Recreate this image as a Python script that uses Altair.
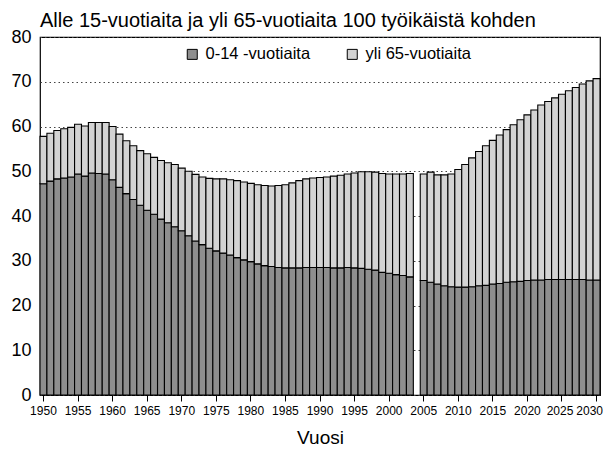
import altair as alt
import pandas as pd

title_text = "Alle 15-vuotiaita ja yli 65-vuotiaita 100 työikäistä kohden"
x_title = "Vuosi"
groups = ["0-14 -vuotiaita", "yli 65-vuotiaita"]
colors = ["#8e8e8e", "#d3d3d3"]

years = [1950, 1951, 1952, 1953, 1954, 1955, 1956, 1957, 1958, 1959,
         1960, 1961, 1962, 1963, 1964, 1965, 1966, 1967, 1968, 1969,
         1970, 1971, 1972, 1973, 1974, 1975, 1976, 1977, 1978, 1979,
         1980, 1981, 1982, 1983, 1984, 1985, 1986, 1987, 1988, 1989,
         1990, 1991, 1992, 1993, 1994, 1995, 1996, 1997, 1998, 1999,
         2000, 2001, 2002, 2003, 2005, 2006, 2007, 2008, 2009,
         2010, 2011, 2012, 2013, 2014, 2015, 2016, 2017, 2018, 2019,
         2020, 2021, 2022, 2023, 2024, 2025, 2026, 2027, 2028, 2029, 2030]

young = [47.2, 47.8, 48.3, 48.5, 48.7, 49.4, 48.9, 49.6, 49.5, 49.4,
         48.1, 46.4, 45.0, 43.7, 42.4, 41.3, 40.4, 39.3, 38.5, 37.6,
         36.7, 35.6, 34.4, 33.6, 32.8, 32.2, 31.7, 31.3, 30.7, 30.2,
         29.8, 29.3, 28.9, 28.7, 28.5, 28.4, 28.4, 28.4, 28.5, 28.5,
         28.5, 28.5, 28.4, 28.4, 28.5, 28.4, 28.3, 28.1, 27.9, 27.4,
         27.2, 26.9, 26.7, 26.4, 25.6, 25.2, 24.8, 24.4, 24.2,
         24.1, 24.1, 24.2, 24.4, 24.5, 24.8, 24.9, 25.2, 25.3, 25.4,
         25.6, 25.7, 25.7, 25.8, 25.8, 25.8, 25.8, 25.8, 25.8, 25.7, 25.7]

old = [10.6, 10.7, 10.8, 11.0, 11.1, 11.1, 11.2, 11.3, 11.4, 11.5,
       11.9, 11.9, 11.8, 12.0, 12.2, 12.6, 12.7, 13.1, 13.4, 13.9,
       14.0, 14.4, 14.9, 15.1, 15.6, 16.1, 16.6, 16.8, 17.2, 17.4,
       17.5, 17.7, 17.9, 18.0, 18.3, 18.6, 19.0, 19.5, 19.8, 20.0,
       20.1, 20.2, 20.5, 20.7, 20.9, 21.2, 21.6, 21.8, 21.9, 22.1,
       22.2, 22.5, 22.7, 23.1, 23.8, 24.6, 24.4, 24.8, 25.2,
       26.3, 27.4, 28.8, 30.0, 31.2, 32.1, 33.2, 34.1, 35.1, 36.1,
       37.0, 38.0, 39.1, 39.8, 40.6, 41.4, 42.2, 42.9, 43.7, 44.5, 45.0]

all_years = list(range(1950, 2031))
tick_years = list(range(1950, 2031, 5))
y_ticks = list(range(0, 81, 10))

rows = []
for yr, a, b in zip(years, young, old):
    rows.append({"vuosi": yr, "ryhma": groups[0], "arvo": a, "jarj": 0})
    rows.append({"vuosi": yr, "ryhma": groups[1], "arvo": b, "jarj": 1})
df = pd.DataFrame(rows)

FONT = "Liberation Sans"

chart = alt.Chart(df).mark_bar(stroke="black", strokeWidth=1.1).encode(
    x=alt.X("vuosi:O",
            scale=alt.Scale(domain=all_years, paddingInner=0, paddingOuter=0),
            axis=alt.Axis(values=tick_years, labelAngle=0, title=x_title,
                          grid=False, domain=False, ticks=True, tickSize=6,
                          tickColor="black", labelFontSize=12, labelPadding=4,
                          labelAlign=alt.expr("datum.value == 2030 ? 'right' : 'center'"),
                          labelOffset=alt.expr("datum.value == 2030 ? 6.5 : (datum.value == 2025 ? -2 : 0)"),
                          labelColor="black", titleFontSize=19, titleFontWeight="normal",
                          titlePadding=12, titleColor="black")),
    y=alt.Y("arvo:Q", stack="zero",
            scale=alt.Scale(domain=[0, 80], nice=False),
            axis=alt.Axis(values=y_ticks, title=None, ticks=False, domain=False,
                          labelFontSize=18, labelPadding=9, labelColor="black",
                          grid=True, gridColor="#444", gridDash=[1.5, 3], gridWidth=1)),
    color=alt.Color("ryhma:N", scale=alt.Scale(domain=groups, range=colors),
                    legend=alt.Legend(title=None, orient="none", legendX=144, legendY=9,
                                      direction="horizontal", symbolType="square",
                                      symbolSize=100, symbolStrokeColor="black",
                                      symbolStrokeWidth=1, labelFontSize=16.5,
                                      labelColor="black", columnPadding=33,
                                      labelOffset=5)),
    order=alt.Order("jarj:Q", sort="ascending"),
).properties(
    width=560, height=358,
    title=alt.Title(title_text, anchor="start", frame="group", fontSize=20,
                    fontWeight="normal", color="black", offset=7, dy=10),
    autosize=alt.AutoSizeParams(type="none"),
    padding={"left": 32, "top": 29, "right": 3, "bottom": 57},
).configure(font=FONT).configure_view(stroke="black", strokeWidth=1.2)

chart.save("out.html", embed_options={"renderer": "svg", "actions": False})
